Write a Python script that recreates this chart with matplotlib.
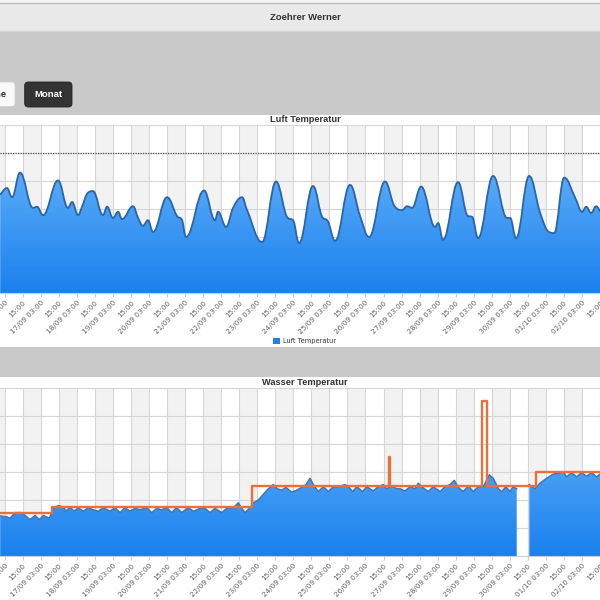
import numpy as np
import pandas as pd
import matplotlib
matplotlib.use('Agg')
import matplotlib.pyplot as plt
from matplotlib.path import Path
from matplotlib.patches import PathPatch, Rectangle, FancyBboxPatch
from matplotlib.colors import LinearSegmentedColormap

start = pd.Timestamp('2014-09-16 00:00')

# Luft Temperatur: Stunden seit 16/09 00:00, Grad C
luft_h = [0, 4.5, 7.9, 13.2, 21.8, 24.5, 28.5, 38.5, 45.1, 47.8, 51.8, 54.4, 58.4, 61.7, 68.4,
          71.1, 75.0, 78.4, 81.0, 88.4, 91.7, 95.0, 98.3, 101.7, 111.0, 117.6, 121.0, 123.6, 135.6,
          142.9, 144.9, 150.3, 154.9, 160.9, 164.2, 174.2, 183.5, 191.5, 194.8, 198.8, 208.1, 214.8,
          217.4, 222.8, 232.7, 239.4, 245.4, 256.0, 262.7, 267.3, 270.7, 274.0, 280.0, 289.3, 291.3,
          294.6, 304.6, 311.2, 313.9, 317.9, 327.9, 337.2, 339.2, 343.2, 351.9, 359.2, 365.2, 368.5,
          375.2, 382.5, 387.1, 389.8, 393.1, 396.5, 399.1]
luft_t = [17.5, 18.75, 17.1, 21.5, 15.2, 15.4, 13.9, 20.1, 15.2, 16.25, 13.9, 15.4, 17.9, 18.2, 13.9,
          15.4, 13.4, 14.5, 13.2, 15.5, 13.4, 12.0, 13.0, 10.9, 17.1, 13.75, 13.0, 10.0, 18.3,
          13.0, 14.5, 11.8, 15.2, 17.1, 14.8, 9.1, 19.9, 13.4, 13.0, 8.9, 19.1, 13.4,
          13.0, 9.3, 19.3, 13.75, 10.0, 19.9, 15.4, 14.8, 15.5, 15.2, 19.0, 11.8, 12.5,
          9.5, 19.8, 13.75, 13.6, 9.8, 20.9, 13.4, 13.4, 9.8, 20.9, 14.3, 10.9, 10.7,
          20.6, 17.0, 14.5, 15.4, 14.3, 15.5, 14.5]
luft_max = 25

# Wasser Temperatur, zwei Teile (Luecke am 30/09)
wasser1_h = [0, 4.3, 6.5, 9.9, 14.3, 19.8, 23.2, 26.0, 28.7, 32.7, 35.3, 38.7, 42.0, 43.8, 46.4,
             49.1, 52.0, 55.3, 58.6, 61.9, 65.3, 68.6, 73.0, 76.4, 79.7, 83.0, 86.4, 89.7, 93.0,
             97.5, 100.8, 104.1, 107.4, 110.8, 114.1, 117.4, 120.7, 125.1, 128.5, 132.9, 136.2,
             139.6, 142.9, 147.3, 150.7, 155.1, 158.4, 160.7, 162.9, 166.2, 168.4, 171.7, 175.0,
             178.4, 181.7, 184.3, 187.3, 190.1, 193.9, 197.2, 200.6, 203.4, 206.1, 208.3, 211.6,
             215.0, 218.3, 221.6, 225.0, 229.4, 231.6, 234.5, 237.2, 241.1, 243.8, 248.2, 251.5,
             254.8, 257.1, 260.4, 263.8, 266.0, 269.3, 272.7, 276.0, 278.1, 280.4, 284.8, 288.1,
             292.6, 295.9, 299.2, 302.1, 304.7, 308.0, 311.4, 314.7, 318.0, 321.4, 325.4, 328.0,
             331.4, 333.6, 336.4, 339.1, 341.3, 343.6]
wasser1_t = [18.86, 18.8, 18.7, 19.1, 19.1, 18.6, 18.9, 18.6, 18.9, 18.7, 19.4, 19.6, 19.5, 19.2, 19.5,
             19.2, 19.45, 19.2, 19.45, 19.3, 19.2, 19.45, 19.2, 19.45, 19.1, 19.45, 19.2, 19.4, 19.3,
             19.45, 19.1, 19.4, 19.3, 19.45, 19.1, 19.45, 19.1, 19.45, 19.2, 19.4, 19.4,
             19.1, 19.4, 19.1, 19.4, 19.45, 19.8, 19.4, 19.1, 19.45, 19.8, 20.0, 20.4,
             20.8, 21.1, 20.8, 20.7, 20.9, 20.55, 20.7, 20.9, 21.1, 21.55, 21.1, 20.6,
             20.95, 20.6, 20.95, 20.95, 21.1, 20.95, 20.6, 20.95, 20.6, 20.95, 20.65, 20.95,
             21.1, 20.8, 21.0, 20.8, 20.8, 20.65, 20.95, 20.8, 21.2, 20.95, 20.6, 20.95,
             20.6, 20.95, 21.1, 21.4, 20.9, 20.6, 21.0, 20.6, 20.95, 20.95, 21.8, 21.55,
             20.8, 20.6, 20.95, 20.6, 20.95, 20.8]
wasser2_h = [352.0, 355.8, 359.1, 363.5, 367.9, 371.2, 374.6, 376.8, 380.1, 383.5, 386.8, 390.1,
             393.5, 396.8, 399.1]
wasser2_t = [21.1, 20.8, 21.2, 21.55, 21.85, 21.9, 22.0, 21.65, 21.95, 21.65, 21.95, 21.7,
             21.95, 21.65, 21.85]

# Sollwert (Stufenlinie)
soll_h = [0, 34.3, 167.3, 258.6, 259.6, 320.3, 324.0, 356.4, 399.1]
soll_t = [19.05, 19.5, 21.0, 23.05, 21.0, 27.1, 21.0, 22.0, 22.0]

X0, X1 = -0.13, 399.0
W, H = 600, 600


def fx(px):
    return px / W


def fy(py):
    return 1 - py / H


def spline_verts(xs, ys):
    # Highcharts-artige Spline-Kontrollpunkte
    xs = np.asarray(xs, float)
    ys = np.asarray(ys, float)
    n = len(xs)
    lc = np.column_stack([xs, ys])
    rc = lc.copy()
    lc = lc.copy()
    sm, den = 1.5, 2.5
    for i in range(1, n - 1):
        lx = (sm * xs[i] + xs[i - 1]) / den
        ly = (sm * ys[i] + ys[i - 1]) / den
        rx = (sm * xs[i] + xs[i + 1]) / den
        ry = (sm * ys[i] + ys[i + 1]) / den
        corr = (ry - ly) * (rx - xs[i]) / (rx - lx) + ys[i] - ry
        ly += corr
        ry += corr
        if ly > ys[i - 1] and ly > ys[i]:
            ly = max(ys[i - 1], ys[i])
            ry = 2 * ys[i] - ly
        elif ly < ys[i - 1] and ly < ys[i]:
            ly = min(ys[i - 1], ys[i])
            ry = 2 * ys[i] - ly
        if ry > ys[i + 1] and ry > ys[i]:
            ry = max(ys[i + 1], ys[i])
            ly = 2 * ys[i] - ry
        elif ry < ys[i + 1] and ry < ys[i]:
            ry = min(ys[i + 1], ys[i])
            ly = 2 * ys[i] - ry
        lc[i] = (lx, ly)
        rc[i] = (rx, ry)
    verts = [(xs[0], ys[0])]
    codes = [Path.MOVETO]
    for i in range(n - 1):
        verts += [tuple(rc[i]), tuple(lc[i + 1]), (xs[i + 1], ys[i + 1])]
        codes += [Path.CURVE4] * 3
    return verts, codes


cmap = LinearSegmentedColormap.from_list('blau', ['#1a80ee', '#74bdfb'])


def gradient_fill(ax, path, ylo, yhi):
    patch = PathPatch(path, facecolor='none', edgecolor='none')
    ax.add_patch(patch)
    grad = np.linspace(1, 0, 256).reshape(-1, 1)
    im = ax.imshow(grad, cmap=cmap, aspect='auto', extent=[X0, X1, ylo, yhi],
                   origin='upper', zorder=2, interpolation='bilinear')
    im.set_clip_path(patch)


ticks = np.arange(3, 400, 12)
tick_labels = []
for h in ticks:
    t = start + pd.Timedelta(hours=int(h))
    tick_labels.append(t.strftime('%d/%m %H:%M') if t.hour == 3 else t.strftime('%H:%M'))


def style_axis(ax, ylo, yhi, step):
    ax.set_facecolor('white')
    for h in np.arange(-9, 400, 24):
        ax.axvspan(h, h + 12, color='#f2f2f2', lw=0, zorder=0)
    for h in ticks:
        ax.axvline(h, color='#d6d6d6', lw=0.8, zorder=0.5)
    for v in np.arange(ylo, yhi + 0.01, step):
        ax.axhline(v, color='#d6d6d6', lw=0.8, zorder=0.5)
    ax.set_xlim(X0, X1)
    ax.set_ylim(ylo, yhi)
    ax.set_yticks([])
    ax.set_xticks(ticks)
    ax.set_xticklabels(tick_labels, rotation=45, ha='right', rotation_mode='anchor',
                       fontsize=5.2, color='#606060', family='DejaVu Sans')
    ax.tick_params(axis='x', length=3, width=0.8, color='#c0d0e0', pad=2)
    for s in ['top', 'left', 'right']:
        ax.spines[s].set_visible(False)
    ax.spines['bottom'].set_color('#c0d0e0')
    ax.spines['bottom'].set_linewidth(0.8)
    ax.spines['bottom'].set_zorder(5)


fig = plt.figure(figsize=(6, 6), dpi=100)
fig.patch.set_facecolor('#c9c9c9')

# Seitenelemente
fig.add_artist(Rectangle((0, fy(3)), 1, 3 / H, transform=fig.transFigure,
                         facecolor='#f4f4f4', edgecolor='none', zorder=-2))
fig.add_artist(Rectangle((0, fy(31)), 1, 28 / H, transform=fig.transFigure,
                         facecolor='#e9e9e9', edgecolor='none', zorder=-2))
fig.add_artist(plt.Line2D([0, 1], [fy(3), fy(3)], transform=fig.transFigure, color='#bdbdbd', lw=1))
fig.add_artist(plt.Line2D([0, 1], [fy(31), fy(31)], transform=fig.transFigure, color='#d4d4d4', lw=1))
fig.text(fx(305), fy(18), 'Zoehrer Werner', ha='center', va='center', fontsize=6.8,
         fontweight='bold', color='#333333', family='Liberation Sans')

fig.add_artist(FancyBboxPatch((fx(-10), fy(106.5)), fx(25), 24.5 / H, transform=fig.transFigure,
                              boxstyle='round,pad=0,rounding_size=0.006',
                              facecolor='#fafafa', edgecolor='#d0d0d0', lw=0.6, zorder=-1))
fig.text(fx(7), fy(94.5), 'Woche', ha='right', va='center', fontsize=6.8,
         fontweight='bold', color='#333333', family='Liberation Sans')
fig.add_artist(FancyBboxPatch((fx(24.7), fy(107)), fx(47.3), 25 / H, transform=fig.transFigure,
                              boxstyle='round,pad=0,rounding_size=0.006',
                              facecolor='#333333', edgecolor='#222222', lw=0.6, zorder=-1))
fig.text(fx(48.5), fy(94.5), 'Monat', ha='center', va='center', fontsize=6.8,
         fontweight='bold', color='white', family='Liberation Sans')

fig.add_artist(Rectangle((0, fy(347)), 1, 232 / H, transform=fig.transFigure,
                         facecolor='white', edgecolor='none', zorder=-1))
fig.add_artist(Rectangle((0, 0), 1, 223 / H, transform=fig.transFigure,
                         facecolor='white', edgecolor='none', zorder=-1))

# Luft Temperatur
ax1 = fig.add_axes([0, fy(293), 1, 168 / H])
style_axis(ax1, 0, 30, 5)
verts, codes = spline_verts(luft_h, luft_t)
fill_path = Path(verts + [(luft_h[-1], 0), (luft_h[0], 0), (luft_h[0], 0)],
                 codes + [Path.LINETO, Path.LINETO, Path.CLOSEPOLY])
gradient_fill(ax1, fill_path, 0, 30)
ax1.add_patch(PathPatch(Path(verts, codes), facecolor='none', edgecolor='#2c64a8', lw=1.3, zorder=3))
ax1.axhline(luft_max, color='#555555', lw=0.9, ls=(0, (1, 1)), zorder=1)
ax1.set_xlim(X0, X1)
ax1.set_ylim(0, 30)
fig.text(fx(305), fy(120), 'Luft Temperatur', ha='center', va='center', fontsize=6.7,
         fontweight='bold', color='#333333', family='Liberation Sans')
fig.add_artist(Rectangle((fx(273.3), fy(343.7)), 6.4 / W, 6 / H, transform=fig.transFigure,
                         facecolor='#1f80e8', edgecolor='none'))
fig.text(fx(283), fy(340.7), 'Luft Temperatur', ha='left', va='center', fontsize=4.8,
         color='#333333', family='DejaVu Sans')

# Wasser Temperatur
ax2 = fig.add_axes([0, fy(556), 1, 168 / H])
style_axis(ax2, 16, 28, 2)
verts2 = []
codes2 = []
for hh, tt in [(wasser1_h, wasser1_t), (wasser2_h, wasser2_t)]:
    pts = list(zip(hh, tt)) + [(hh[-1], 16), (hh[0], 16), (hh[0], 16)]
    verts2 += pts
    codes2 += [Path.MOVETO] + [Path.LINETO] * (len(hh) + 1) + [Path.CLOSEPOLY]
gradient_fill(ax2, Path(verts2, codes2), 16, 28)
ax2.plot(wasser1_h, wasser1_t, color='#4675b0', lw=1.1, zorder=3)
ax2.plot(wasser2_h, wasser2_t, color='#4675b0', lw=1.1, zorder=3)
ax2.step(soll_h, soll_t, where='post', color='#e8703a', lw=1.7, zorder=4)
ax2.set_xlim(X0, X1)
ax2.set_ylim(16, 28)
fig.text(fx(305), fy(382.7), 'Wasser Temperatur', ha='center', va='center', fontsize=6.7,
         fontweight='bold', color='#333333', family='Liberation Sans')

fig.savefig('out.png', dpi=100, facecolor=fig.get_facecolor())
